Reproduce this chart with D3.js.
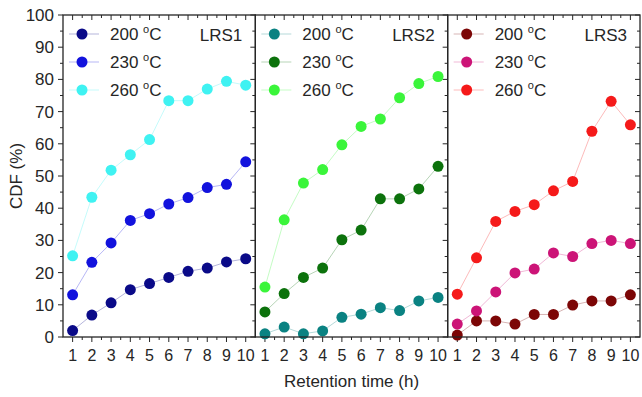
<!DOCTYPE html>
<html>
<head>
<meta charset="utf-8">
<script src="https://cdn.jsdelivr.net/npm/d3@7"></script>
<style>
  html, body { margin: 0; padding: 0; background: #fff; }
  svg { display: block; font-family: Arial, "Liberation Sans", sans-serif; }
</style>
</head>
<body>
<div id="chart"></div>
<script>
// retention hours, shared by all panels
const HOURS = [1, 2, 3, 4, 5, 6, 7, 8, 9, 10];
const TEMPS = ['200', '230', '260'];
const PANELS = ['LRS1', 'LRS2', 'LRS3'];
const Y_TICKS = [0, 10, 20, 30, 40, 50, 60, 70, 80, 90, 100];

// CDF (%)
const lrs1_200 = [2, 6.8, 10.6, 14.7, 16.6, 18.5, 20.4, 21.4, 23.3, 24.3];
const lrs1_230 = [13.1, 23.2, 29.2, 36.2, 38.3, 41.3, 43.3, 46.4, 47.4, 54.4];
const lrs1_260 = [25.2, 43.4, 51.8, 56.6, 61.3, 73.4, 73.4, 77, 79.4, 78.2];

const lrs2_200 = [1, 3.1, 1, 1.9, 6.1, 7.1, 9.1, 8.2, 11.2, 12.3];
const lrs2_230 = [7.8, 13.5, 18.5, 21.4, 30.2, 33.2, 42.9, 42.9, 46, 53];
const lrs2_260 = [15.5, 36.4, 47.8, 52, 59.7, 65.4, 67.7, 74.3, 78.7, 80.9];

const lrs3_200 = [0.6, 5, 5, 4, 7, 7, 9.9, 11.2, 11.2, 13.1];
const lrs3_230 = [4, 8.1, 14, 19.9, 21.1, 26.1, 25, 29, 30, 29];
const lrs3_260 = [13.3, 24.6, 35.9, 39, 41.1, 45.4, 48.3, 63.9, 73.2, 65.9];

const SERIES = [
  [lrs1_200, lrs1_230, lrs1_260],
  [lrs2_200, lrs2_230, lrs2_260],
  [lrs3_200, lrs3_230, lrs3_260]
];
const COLORS = [
  ['#0a0a88', '#1212dd', '#3ff2f2'],
  ['#0a8282', '#0c720c', '#3af53a'],
  ['#7c0606', '#cc1477', '#f51a1a']
];

const W = 642, H = 397;
const M = { top: 15, right: 2, bottom: 60, left: 63 };
const panelW = (W - M.left - M.right) / 3;
const INK = '#262626';

const svg = d3.select('#chart').append('svg')
  .attr('width', W).attr('height', H);

const y = d3.scaleLinear().domain([0, 100]).range([H - M.bottom, M.top]);
const yMinor = d3.range(5, 100, 10);

PANELS.forEach((name, p) => {
  const x0 = M.left + p * panelW;
  const x = d3.scaleLinear().domain([0.5, 10.5]).range([x0, x0 + panelW]);
  const g = svg.append('g');
  const xHalf = d3.range(1.5, 10.5, 1);

  // ticks: bottom out, top in, right in
  const tick = (x1, y1, x2, y2) => g.append('line')
    .attr('x1', x1).attr('y1', y1).attr('x2', x2).attr('y2', y2)
    .attr('stroke', INK).attr('stroke-width', 1);

  HOURS.forEach(h => {
    tick(x(h), y(0), x(h), y(0) + 5);
    tick(x(h), y(100), x(h), y(100) + 5);
  });
  xHalf.forEach(h => {
    tick(x(h), y(0), x(h), y(0) + 3);
    tick(x(h), y(100), x(h), y(100) + 3);
  });
  Y_TICKS.forEach(v => tick(x0 + panelW, y(v), x0 + panelW - 5, y(v)));
  yMinor.forEach(v => tick(x0 + panelW, y(v), x0 + panelW - 3, y(v)));

  g.selectAll('.xl').data(HOURS).join('text')
    .attr('x', d => x(d)).attr('y', y(0) + 24)
    .attr('text-anchor', 'middle')
    .attr('fill', INK).style('font-size', '16px')
    .text(d => d);

  // connecting lines + markers
  const line = d3.line().x((d, i) => x(HOURS[i])).y(d => y(d));
  SERIES[p].forEach((vals, s) => {
    g.append('path').attr('d', line(vals))
      .attr('fill', 'none').attr('stroke', COLORS[p][s])
      .attr('stroke-opacity', 0.3).attr('stroke-width', 1);
    g.selectAll(null).data(vals).join('circle')
      .attr('cx', (d, i) => x(HOURS[i])).attr('cy', d => y(d))
      .attr('r', 5.5).attr('fill', COLORS[p][s]);
  });

  // legend
  TEMPS.forEach((t, s) => {
    const ly = 34 + s * 28;
    g.append('line')
      .attr('x1', x0 + 6).attr('x2', x0 + 36).attr('y1', ly).attr('y2', ly)
      .attr('stroke', COLORS[p][s]).attr('stroke-opacity', 0.3);
    g.append('circle').attr('cx', x0 + 19).attr('cy', ly).attr('r', 5.5)
      .attr('fill', COLORS[p][s]);
    const tx = g.append('text')
      .attr('x', x0 + 47).attr('y', ly + 6)
      .attr('fill', INK).style('font-size', '17px');
    tx.append('tspan').text(t + ' ');
    tx.append('tspan').attr('dy', -7).style('font-size', '11px').text('o');
    tx.append('tspan').attr('dy', 7).text('C');
  });

  g.append('text')
    .attr('x', x0 + panelW - 13).attr('y', 41)
    .attr('text-anchor', 'end')
    .attr('fill', INK).style('font-size', '17px')
    .text(name);

  // frame
  g.append('rect')
    .attr('x', x0).attr('y', y(100))
    .attr('width', panelW).attr('height', y(0) - y(100))
    .attr('fill', 'none').attr('stroke', INK).attr('stroke-width', 1.3);
});

// left axis: outward ticks
const yAxis = svg.append('g').attr('transform', `translate(${M.left},0)`);
yAxis.selectAll('.maj').data(Y_TICKS).join('line')
  .attr('x1', 0).attr('x2', -5).attr('y1', d => y(d)).attr('y2', d => y(d))
  .attr('stroke', INK);
yAxis.selectAll('.min').data(yMinor).join('line')
  .attr('x1', 0).attr('x2', -3).attr('y1', d => y(d)).attr('y2', d => y(d))
  .attr('stroke', INK);
yAxis.selectAll('text').data(Y_TICKS).join('text')
  .attr('x', -9).attr('y', d => y(d) + 6)
  .attr('text-anchor', 'end')
  .attr('fill', INK).style('font-size', '17px')
  .text(d => d);

svg.append('text')
  .attr('transform', `translate(22,${(y(0) + y(100)) / 2}) rotate(-90)`)
  .attr('text-anchor', 'middle')
  .attr('fill', INK).style('font-size', '17px')
  .text('CDF (%)');

svg.append('text')
  .attr('x', M.left + panelW * 1.5).attr('y', 387)
  .attr('text-anchor', 'middle')
  .attr('fill', INK).style('font-size', '17px')
  .text('Retention time (h)');
</script>
</body>
</html>
